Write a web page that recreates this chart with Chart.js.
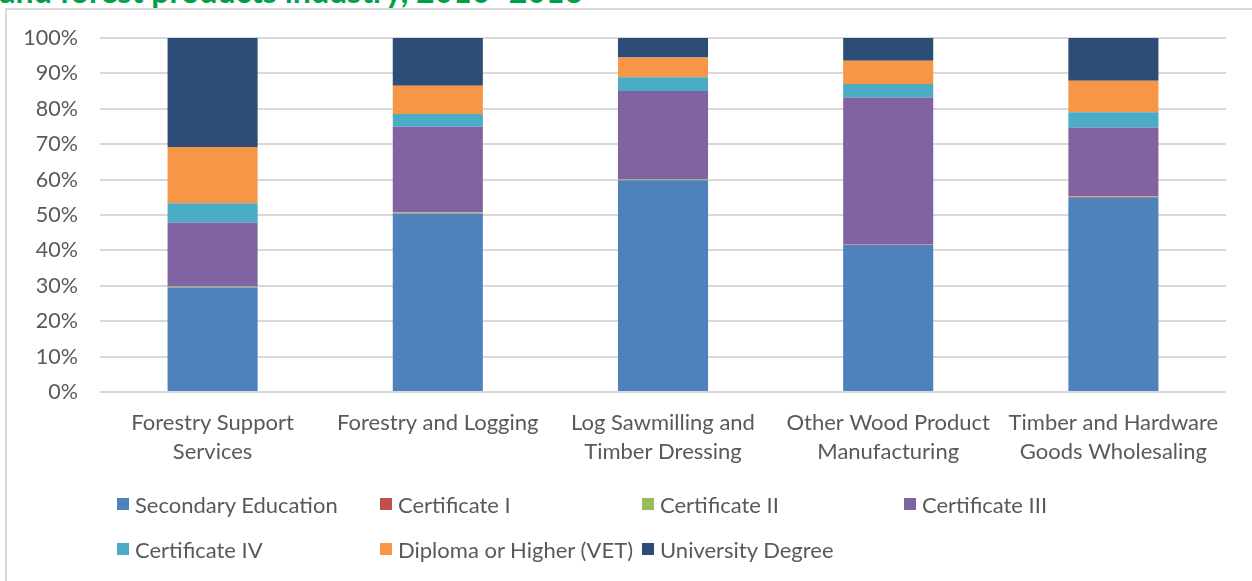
<!DOCTYPE html>
<html>
<head>
<meta charset="utf-8">
<script src="https://cdn.jsdelivr.net/npm/chart.js@4/dist/chart.umd.min.js"></script>
<style>
  html, body { margin: 0; padding: 0; background: #fff; }
  body { width: 1252px; height: 581px; position: relative; overflow: hidden; font-family: Lato, "Open Sans", sans-serif; }
  #frame { position: absolute; left: 5px; top: 8px; width: 1400px; height: 700px; border: 2px solid #d9d9d9; box-sizing: border-box; }
  #title { position: absolute; right: 669px; top: -25px; white-space: nowrap; font-weight: bold; font-size: 32px; line-height: 32px; color: #00A04B; }
  #wrap { position: absolute; left: 0; top: 0; width: 1252px; height: 581px; }
  #legend { position: absolute; left: 0; top: 0; width: 1252px; height: 581px; pointer-events: none; }
  .li { position: absolute; display: flex; align-items: center; font-size: 22px; color: #595959; white-space: nowrap; }
  .sw { width: 12px; height: 12px; margin-right: 6px; }
</style>
</head>
<body>
<div id="frame"></div>
<div id="title">and forest products industry, 2010–2016</div>
<div id="wrap"><canvas id="c" width="1252" height="581"></canvas></div>
<div id="legend"></div>
<script>
const categories = [
  ["Forestry Support", "Services"],
  ["Forestry and Logging"],
  ["Log Sawmilling and", "Timber Dressing"],
  ["Other Wood Product", "Manufacturing"],
  ["Timber and Hardware", "Goods Wholesaling"]
];
const seriesNames = ["Secondary Education", "Certificate I", "Certificate II", "Certificate III", "Certificate IV", "Diploma or Higher (VET)", "University Degree"];
const secondaryEducation = [29.5, 50.4, 59.8, 41.5, 54.9];
const certificateI       = [0.1, 0.1, 0.1, 0.1, 0.2];
const certificateII      = [0.2, 0.3, 0.1, 0.1, 0.1];
const certificateIII     = [18.1, 24.1, 25.0, 41.5, 19.5];
const certificateIV      = [5.4, 3.6, 3.9, 3.8, 4.3];
const diplomaVET         = [15.9, 8.0, 5.6, 6.6, 8.9];
const universityDegree   = [30.8, 13.5, 5.5, 6.4, 12.1];
const yTicks = [0, 10, 20, 30, 40, 50, 60, 70, 80, 90, 100];

const seriesValues = [secondaryEducation, certificateI, certificateII, certificateIII, certificateIV, diplomaVET, universityDegree];
const colors = ["#4F81BD", "#C0504D", "#9BBB59", "#8064A2", "#4BACC6", "#F79646", "#2C4D75"];

const datasets = seriesNames.map((n, i) => ({
  label: n,
  data: seriesValues[i],
  backgroundColor: colors[i],
  borderWidth: 0,
  barPercentage: 0.4,
  categoryPercentage: 1.0
}));

const FONT = "Lato, 'Open Sans', sans-serif";
new Chart(document.getElementById('c'), {
  type: 'bar',
  data: { labels: categories, datasets },
  options: {
    responsive: false,
    animation: false,
    layout: { padding: { left: 0, right: 26, top: 38, bottom: 0 } },
    plugins: { legend: { display: false }, tooltip: { enabled: false }, title: { display: false } },
    scales: {
      x: {
        stacked: true,
        grid: { display: false, drawTicks: false },
        border: { display: false },
        ticks: { color: '#595959', font: { family: FONT, size: 22, lineHeight: 1.32 }, padding: 16, maxRotation: 0, autoSkip: false },
        afterFit: (s) => { s.height = 581 - 392; }
      },
      y: {
        stacked: true,
        min: 0, max: 100,
        afterBuildTicks: (s) => { s.ticks = yTicks.map(v => ({ value: v })); },
        grid: { color: '#d9d9d9', lineWidth: 2, drawTicks: false },
        border: { display: false },
        ticks: { color: '#595959', font: { family: FONT, size: 21.5 }, padding: 22, callback: (v) => v + '%' },
        afterFit: (s) => { s.width = 100; }
      }
    }
  }
});

const legend = document.getElementById('legend');
const colX = [117, 380, 642, 904];
const rowY = [505, 550];
seriesNames.forEach((n, i) => {
  const d = document.createElement('div');
  d.className = 'li';
  const col = i % 4, row = Math.floor(i / 4);
  d.style.left = colX[col] + 'px';
  d.style.top = (rowY[row] - 15) + 'px';
  d.style.height = '28px';
  d.innerHTML = '<span class="sw" style="background:' + colors[i] + '"></span><span>' + n + '</span>';
  legend.appendChild(d);
});
</script>
</body>
</html>
